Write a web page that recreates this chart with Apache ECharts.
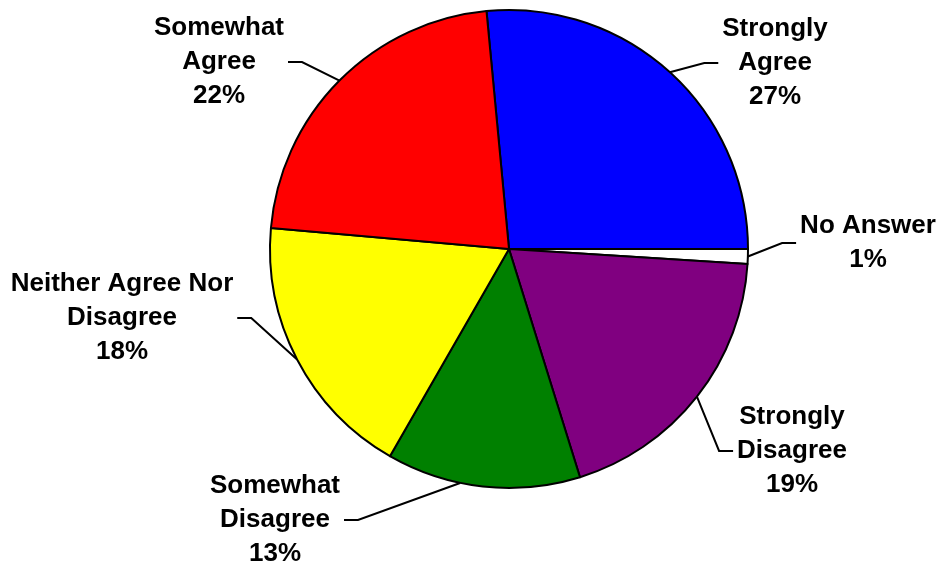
<!DOCTYPE html>
<html>
<head>
<meta charset="utf-8">
<script src="https://cdn.jsdelivr.net/npm/echarts@6/dist/echarts.min.js"></script>
<style>
html,body{margin:0;padding:0;background:#fff;}
#chart{width:942px;height:564px;}
</style>
</head>
<body>
<div id="chart"></div>
<script>
// ---- data ----
const categories = ['Strongly Agree', 'No Answer', 'Strongly Disagree', 'Somewhat Disagree', 'Neither Agree Nor Disagree', 'Somewhat Agree'];
const labelText = ['Strongly\nAgree', 'No Answer', 'Strongly\nDisagree', 'Somewhat\nDisagree', 'Neither Agree Nor\nDisagree', 'Somewhat\nAgree'];
const values = [26.5, 1.0, 19.2, 13.1, 18.1, 22.1];

// ---- styles / layout (not data) ----
const colors = ['#0000FF', '#FFFFFF', '#800080', '#008000', '#FFFF00', '#FF0000'];
const pieCenter = [509, 249];
const labelCenters = [[775, 63], [868, 243], [792, 451], [275, 520], [122, 318], [219, 62]];
const labelSide = [1, 1, 1, -1, -1, -1]; // label lies right (+1) or left (-1) of its anchor
const anchorShiftDeg = [0, 0, 0, -5.5, 0, 0]; // leader-line anchor rotation along the rim

const chart = echarts.init(document.getElementById('chart'), null, {renderer: 'canvas'});

function shiftAnchor(p, deg) {
  if (!deg) return p;
  const dx = p[0] - pieCenter[0], dy = pieCenter[1] - p[1];
  const r = Math.sqrt(dx * dx + dy * dy);
  const th = Math.atan2(dy, dx) + deg * Math.PI / 180;
  return [pieCenter[0] + r * Math.cos(th), pieCenter[1] - r * Math.sin(th)];
}

const option = {
  backgroundColor: '#ffffff',
  animation: false,
  series: [{
    type: 'pie',
    center: pieCenter,
    radius: 239,
    startAngle: 95.4,
    clockwise: true,
    avoidLabelOverlap: false,
    data: categories.map((c, i) => ({
      name: c,
      value: values[i],
      itemStyle: {color: colors[i]}
    })),
    itemStyle: {borderColor: '#000000', borderWidth: 2},
    emphasis: {disabled: true},
    label: {
      show: true,
      position: 'outside',
      alignTo: 'none',
      color: '#000000',
      fontFamily: '"Liberation Sans", Arial, sans-serif',
      fontWeight: 'bold',
      fontSize: 26,
      lineHeight: 34,
      align: 'center',
      formatter: p => labelText[p.dataIndex] + '\n' + Math.round(p.percent) + '%'
    },
    labelLine: {
      show: true,
      length: 20,
      length2: 15,
      smooth: false,
      lineStyle: {color: '#000000', width: 2}
    },
    labelLayout: function (params) {
      const i = params.dataIndex;
      const c = labelCenters[i];
      const w = params.labelRect.width;
      const side = labelSide[i];
      const p0 = params.labelLinePoints ? shiftAnchor(params.labelLinePoints[0], anchorShiftDeg[i]) : null;
      const p2 = [c[0] - side * (w / 2 + 4), c[1]];
      const p1 = [p2[0] - side * 14, c[1]];
      const res = {
        x: c[0],
        y: c[1],
        align: 'center',
        verticalAlign: 'middle'
      };
      if (p0) res.labelLinePoints = [p0, p1, p2];
      return res;
    }
  }]
};
chart.setOption(option);
</script>
</body>
</html>
